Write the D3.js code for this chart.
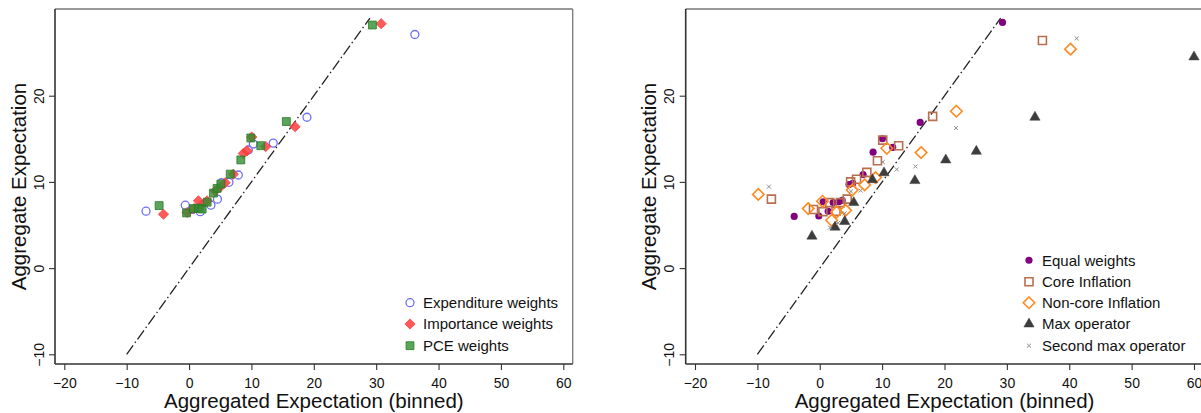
<!DOCTYPE html>
<html><head><meta charset="utf-8">
<script src="https://cdn.jsdelivr.net/npm/d3@7"></script>
<style>body{margin:0;background:#fff;} svg{display:block;font-family:"Liberation Sans",Arial,sans-serif;}</style>
</head><body>
<svg id="c" width="1201" height="413"></svg>
<script>
// ---- data ----
const xTicks = [-20, -10, 0, 10, 20, 30, 40, 50, 60];
const yTicks = [-10, 0, 10, 20];
const diagLine = [[-10, -10], [29, 29]];
const xTitle = "Aggregated Expectation (binned)";
const yTitle = "Aggregate Expectation";

// left panel
const expenditure = [[-6.9,6.6],[-0.6,7.3],[0.5,6.8],[1.8,6.55],[3.5,7.3],[4.55,8.0],[5.2,9.9],[6.4,9.95],[7.9,10.8],[9.5,13.7],[10.3,14.4],[13.5,14.5],[18.9,17.5],[36.2,27.1]];
const importance = [[-4.1,6.25],[-0.3,6.45],[0.8,6.9],[1.5,7.8],[2.0,7.3],[2.9,7.8],[4.2,8.95],[5.0,9.4],[5.8,9.9],[7.1,10.9],[8.7,13.3],[9.3,13.6],[10.05,15.2],[12.3,14.1],[17.0,16.4],[30.8,28.35]];
const pce = [[-4.8,7.25],[-0.4,6.4],[0.7,6.9],[1.5,6.95],[2.1,6.85],[2.9,7.65],[3.9,8.7],[4.5,9.25],[5.1,9.75],[6.6,10.9],[8.3,12.55],[9.9,15.1],[11.5,14.2],[15.6,17.0],[29.4,28.2]];
const leftLabels = ["Expenditure weights", "Importance weights", "PCE weights"];

// right panel
const equalW = [[-4.1,6.0],[-0.15,6.05],[0.55,7.7],[1.35,6.6],[2.15,7.6],[3.05,7.7],[3.6,7.85],[4.7,9.7],[5.3,9.85],[6.95,10.85],[8.55,13.45],[10.05,15.0],[11.7,14.0],[16.1,16.9],[29.3,28.5]];
const coreInf = [[-7.75,8.0],[-1.0,6.8],[0.5,6.55],[1.6,7.6],[2.6,6.6],[3.3,7.6],[4.4,8.0],[4.95,10.0],[5.9,10.3],[7.55,11.1],[9.25,12.45],[10.1,14.85],[12.65,14.2],[18.1,17.6],[35.7,26.4]];
const noncoreInf = [[-9.85,8.55],[-1.85,6.9],[0.45,7.75],[1.9,5.55],[2.7,6.5],[4.15,6.7],[5.2,9.05],[7.2,9.65],[8.95,10.5],[10.75,13.9],[16.25,13.4],[21.9,18.2],[40.2,25.4]];
const maxOp = [[-1.25,3.7],[2.45,4.75],[4.0,5.4],[5.45,7.6],[8.45,10.25],[10.3,11.05],[15.25,10.15],[20.2,12.55],[25.1,13.55],[34.5,17.5],[60.0,24.5]];
const secondMax = [[-8.15,9.45],[1.65,4.7],[2.95,5.25],[4.0,6.35],[5.0,8.9],[6.55,9.0],[10.1,12.3],[12.35,11.45],[15.35,11.8],[21.85,16.25],[41.2,26.65]];
const rightLabels = ["Equal weights", "Core Inflation", "Non-core Inflation", "Max operator", "Second max operator"];

// square diamond symbol (rotated square)
const symbolRhombus = {
  draw(ctx, size) {
    const r = Math.sqrt(size / 2);
    ctx.moveTo(0, -r); ctx.lineTo(r, 0); ctx.lineTo(0, r); ctx.lineTo(-r, 0); ctx.closePath();
  }
};

// ---- styles ----
const styles = {
  circle:   {sym: d3.symbolCircle,   size: 50,  fill: "none", stroke: "#6e6ef7", sw: 1.3, op: 1},
  diamondF: {sym: symbolRhombus,     size: 52,  fill: "#ff3d3d", stroke: "#ff3d3d", sw: 0.8, op: 0.85},
  squareF:  {sym: d3.symbolSquare,   size: 62,  fill: "#2f8f2f", stroke: "#2a7a2a", sw: 0.8, op: 0.8},
  dot:      {sym: d3.symbolCircle,   size: 40,  fill: "#800080", stroke: "none", sw: 0, op: 1},
  squareO:  {sym: d3.symbolSquare,   size: 64,  fill: "none", stroke: "#b86f50", sw: 1.6, op: 1},
  diamondO: {sym: symbolRhombus,     size: 66,  fill: "none", stroke: "#ff8a1f", sw: 1.6, op: 1},
  tri:      {sym: d3.symbolTriangle, size: 46,  fill: "#3d3d3d", stroke: "#3d3d3d", sw: 0.5, op: 1},
  cross:    {sym: d3.symbolX,        size: 12,  fill: "none", stroke: "#8c8c8c", sw: 1.0, op: 1}
};

const svg = d3.select("#c");
svg.append("defs").append("clipPath").attr("id","full")
  .append("rect").attr("x",0).attr("y",0).attr("width",1201).attr("height",413);

function panel(off, series, labels, legendX, legendRows) {
  const g = svg.append("g");
  const x = d3.scaleLinear().domain([-20, 60]).range([64.3 + off, 563.3 + off]);
  const y = d3.scaleLinear().domain([-10, 20]).range([354.3, 95.7]);
  const L = 55 + off, R = 572.7 + off, T = 9, B = 364;

  // frame top/right
  g.append("line").attr("x1", L).attr("x2", R).attr("y1", T).attr("y2", T)
    .attr("stroke", "#777").attr("stroke-width", 1.3);
  g.append("line").attr("x1", R).attr("x2", R).attr("y1", T).attr("y2", B)
    .attr("stroke", "#777").attr("stroke-width", 1.3);

  // x axis
  const xa = g.append("g").attr("transform", `translate(0,${B})`)
    .call(d3.axisBottom(x).tickValues(xTicks).tickSize(6).tickSizeOuter(0));
  xa.select(".domain").attr("d", `M${L},0H${R}`).attr("stroke", "#333").attr("stroke-width", 1.6);
  xa.selectAll(".tick line").attr("stroke", "#333").attr("stroke-width", 1.1);
  xa.selectAll(".tick text").attr("y", 23.5).attr("dy", null)
    .style("font-size", "14px").attr("fill", "#111").style("font-family", "Liberation Sans, Arial, sans-serif");

  // y axis
  const ya = g.append("g").attr("transform", `translate(${L},0)`)
    .call(d3.axisLeft(y).tickValues(yTicks).tickSize(6).tickSizeOuter(0));
  ya.select(".domain").attr("d", `M0,${T}V${B}`).attr("stroke", "#333").attr("stroke-width", 1.6);
  ya.selectAll(".tick line").attr("stroke", "#333").attr("stroke-width", 1.1);
  ya.selectAll(".tick text").attr("x", 0).attr("y", -11.5).attr("dy", null)
    .attr("transform", "rotate(-90)").attr("text-anchor", "middle")
    .style("font-size", "14px").attr("fill", "#111").style("font-family", "Liberation Sans, Arial, sans-serif");

  // titles
  g.append("text").attr("x", (L + R) / 2).attr("y", 408).attr("text-anchor", "middle")
    .style("font-size", "20.5px").attr("fill", "#111").text(xTitle);
  g.append("text").attr("transform", `translate(${25.5 + off},${(T + B) / 2}) rotate(-90)`)
    .attr("text-anchor", "middle").style("font-size", "20.5px").attr("fill", "#111").text(yTitle);

  // 45-degree line
  g.append("path").datum(diagLine)
    .attr("d", d3.line().x(d => x(d[0])).y(d => y(d[1])))
    .attr("stroke", "#222").attr("stroke-width", 1.3).attr("fill", "none")
    .attr("stroke-dasharray", "11,3,1.5,3");

  // points
  const pg = g.append("g").attr("clip-path", "url(#full)");
  series.forEach(s => {
    const st = styles[s.style];
    pg.append("g").selectAll("path").data(s.data).join("path")
      .attr("transform", d => `translate(${x(d[0])},${y(d[1])})`)
      .attr("d", d3.symbol().type(st.sym).size(st.size))
      .attr("fill", st.fill).attr("stroke", st.stroke).attr("stroke-width", st.sw)
      .attr("fill-opacity", st.op);
  });

  // legend
  series.forEach((s, i) => {
    const st = styles[s.style];
    const cy = legendRows[i];
    g.append("path").attr("transform", `translate(${legendX},${cy})`)
      .attr("d", d3.symbol().type(st.sym).size(st.size))
      .attr("fill", st.fill).attr("stroke", st.stroke).attr("stroke-width", st.sw)
      .attr("fill-opacity", st.op);
    g.append("text").attr("x", legendX + 13).attr("y", cy + 5.3)
      .style("font-size", "15px").attr("fill", "#111").text(labels[i]);
  });
}

panel(0, [
  {data: expenditure, style: "circle"},
  {data: importance, style: "diamondF"},
  {data: pce, style: "squareF"}
], leftLabels, 410, [302.7, 324, 345.7]);

panel(630.7, [
  {data: equalW, style: "dot"},
  {data: coreInf, style: "squareO"},
  {data: noncoreInf, style: "diamondO"},
  {data: maxOp, style: "tri"},
  {data: secondMax, style: "cross"}
], rightLabels, 1029, [260.3, 281.7, 302.7, 324, 345.7]);
</script>
</body></html>
